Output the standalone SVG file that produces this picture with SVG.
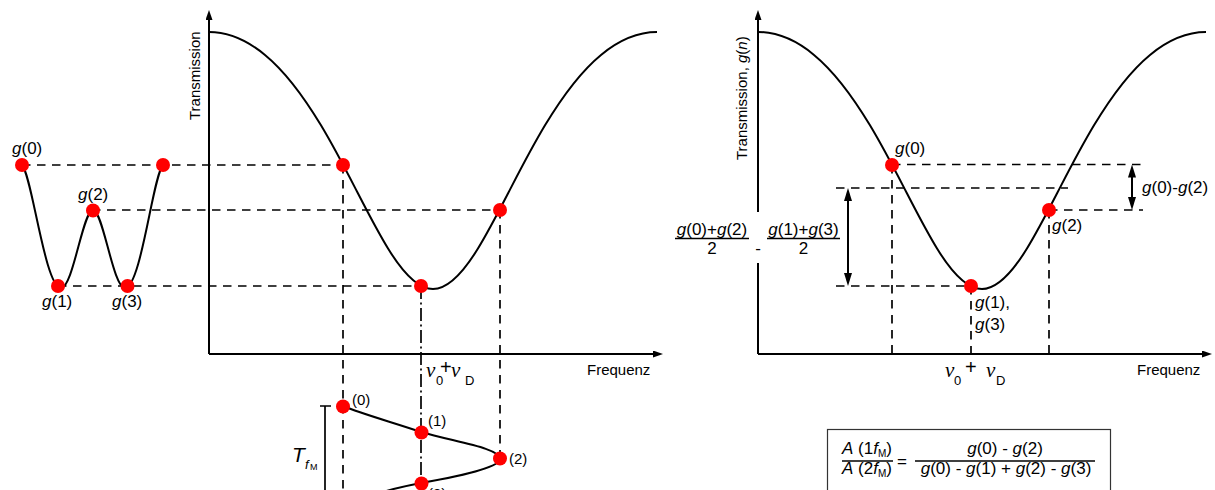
<svg xmlns="http://www.w3.org/2000/svg" width="1215" height="490" viewBox="0 0 1215 490">
<defs>
<style>
text{font-family:"Liberation Sans",Arial,sans-serif;fill:#000}
.lbl{font-size:17px}
.axl{font-size:15px}
.it{font-style:italic}
.ax{stroke:#000;stroke-width:2;fill:none}
.crv{stroke:#000;stroke-width:2;fill:none}
.dsh{stroke:#000;stroke-width:1.7;stroke-dasharray:8.5 6.5;fill:none}
.dd{stroke:#000;stroke-width:1.7;stroke-dasharray:13 3.5 2 3.5;fill:none}
.dar{stroke:#000;stroke-width:2;fill:none}
.bar{stroke:#000;stroke-width:1.3}
.dot{fill:#ff0000}
.nu{font-family:"Liberation Serif","Times New Roman",serif;font-style:italic;font-size:21px}
.pl{font-size:20px}
.sub{font-size:13px}
</style>
<marker id="axh" viewBox="0 0 10 7" refX="5" refY="3.5" markerWidth="10" markerHeight="7" markerUnits="userSpaceOnUse" orient="auto"><path d="M0,0 L10,3.5 L0,7 z" fill="#000"/></marker>
<marker id="dah" viewBox="0 0 13 8" refX="7" refY="4" markerWidth="13" markerHeight="8" markerUnits="userSpaceOnUse" orient="auto-start-reverse"><path d="M0,0 L13,4 L0,8 z" fill="#000"/></marker>
<path id="tcurve" d="M209,32 C227.7,32 246.3,39.5 265,54.9 C283.7,70.3 302.3,94.2 321,125.3 C332.2,144 343.4,165.2 354.6,186.9 C365.8,208.6 377,230.7 388.2,248.8 C403.1,273 418.1,289 433,289 C447.9,289 462.9,273 477.8,248.8 C489,230.7 500.2,208.6 511.4,186.9 C522.6,165.2 533.8,144 545,125.3 C563.7,94.2 582.3,70.3 601,54.9 C619.7,39.5 638.3,32 657,32"/>
</defs>

<!-- connectors -->
<g id="connectors">
  <path class="dsh" d="M22,165 H343"/>
  <path class="dsh" d="M92,210 H500"/>
  <path class="dsh" d="M58,286 H421"/>
  <path class="dsh" d="M343,165 V490"/>
  <path class="dsh" d="M500,210 V459"/>
  <path class="dd" d="M421,286 V490"/>
  <path class="dsh" d="M892,164.5 H1143"/>
  <path class="dsh" d="M1049,210 H1143"/>
  <path class="dsh" d="M836,188 H1068"/>
  <path class="dsh" d="M836,286 H971"/>
  <path class="dsh" d="M892,165 V354"/>
  <path class="dsh" d="M971,286 V354"/>
  <path class="dsh" d="M1049,210 V354"/>
  <path class="dar" d="M848,194 V280" marker-start="url(#dah)" marker-end="url(#dah)"/>
  <path class="dar" d="M1132,170.5 V204" marker-start="url(#dah)" marker-end="url(#dah)"/>
</g>

<!-- left panel axes -->
<g id="left-axes">
  <path class="ax" d="M209,354 V15" marker-end="url(#axh)"/>
  <path class="ax" d="M209,354 H658" marker-end="url(#axh)"/>
  <text class="axl" transform="translate(200,120) rotate(-90)">Transmission</text>
  <text class="axl" x="587" y="375">Frequenz</text>
  <g id="left-nu-label">
    <text class="nu" x="426" y="377">ν</text>
    <text class="sub" x="436" y="385">0</text>
    <text class="pl" x="440" y="374">+</text>
    <text class="nu" x="451" y="377">ν</text>
    <text class="sub" x="465" y="385">D</text>
  </g>
</g>

<g id="left-transmission-curve">
  <use href="#tcurve" class="crv"/>
</g>

<g id="w-curve">
  <path class="crv" d="M22,165 C32,175 45,288 61,288 C73,288 83,210 93,210 C103,210 113,288 125,288 C141,288 153,175 163,165"/>
</g>

<g id="time-curve">
  <path class="crv" d="M343,406 C362,414 395,423 421,432 C455,442 500,448 500,459 C500,468 450,478 421,483 C405,486 392,489 380,493"/>
</g>

<g id="period-bracket">
  <path class="ax" d="M320,406 H331 M325,406 V490" style="stroke-width:1.7"/>
  <text class="it" x="292" y="462" font-size="21">T</text>
  <text class="it" x="305" y="469" font-size="13">f</text>
  <text x="310" y="470" font-size="9">M</text>
</g>

<!-- left dots -->
<g id="node-g0-left"><circle class="dot" cx="22" cy="165" r="7"/><text class="lbl" x="12" y="154"><tspan class="it">g</tspan>(0)</text></g>
<g id="node-g1-left"><circle class="dot" cx="58" cy="286" r="7"/><text class="lbl" x="42" y="307"><tspan class="it">g</tspan>(1)</text></g>
<g id="node-g2-left"><circle class="dot" cx="93" cy="210.5" r="7"/><text class="lbl" x="78" y="200"><tspan class="it">g</tspan>(2)</text></g>
<g id="node-g3-left"><circle class="dot" cx="127.5" cy="286" r="7"/><text class="lbl" x="112" y="307"><tspan class="it">g</tspan>(3)</text></g>
<g id="node-g4-left"><circle class="dot" cx="163" cy="165" r="7"/></g>
<g id="node-t0"><circle class="dot" cx="343" cy="165" r="7"/></g>
<g id="node-t1"><circle class="dot" cx="421" cy="286" r="7"/></g>
<g id="node-t2"><circle class="dot" cx="500" cy="210" r="7"/></g>
<g id="node-s0"><circle class="dot" cx="343" cy="406.5" r="7"/><text class="axl" x="352" y="405">(0)</text></g>
<g id="node-s1"><circle class="dot" cx="421.5" cy="432.5" r="7"/><text class="axl" x="428" y="426">(1)</text></g>
<g id="node-s2"><circle class="dot" cx="500" cy="458.5" r="7"/><text class="axl" x="509" y="464">(2)</text></g>
<g id="node-s3"><circle class="dot" cx="421.5" cy="483.5" r="7"/><text class="axl" x="428" y="499">(3)</text></g>

<!-- right panel -->
<g id="right-axes">
  <path class="ax" d="M758,354 V263"/>
  <path class="ax" d="M758,212 V15" marker-end="url(#axh)"/>
  <path class="ax" d="M758,354 H1207" marker-end="url(#axh)"/>
  <text class="axl" transform="translate(747,160) rotate(-90)">Transmission, <tspan class="it">g</tspan>(<tspan class="it">n</tspan>)</text>
  <text class="axl" x="1137" y="375">Frequenz</text>
  <g id="right-nu-label">
    <text class="nu" x="945" y="377">ν</text>
    <text class="sub" x="954" y="385">0</text>
    <text class="pl" x="965" y="374">+</text>
    <text class="nu" x="986" y="377">ν</text>
    <text class="sub" x="996" y="385">D</text>
  </g>
</g>

<g id="right-transmission-curve">
  <use href="#tcurve" class="crv" transform="translate(549,0)"/>
</g>

<g id="node-g0-right"><circle class="dot" cx="892" cy="165" r="7"/><text class="lbl" x="895" y="154"><tspan class="it">g</tspan>(0)</text></g>
<g id="node-g1-right"><circle class="dot" cx="971" cy="286" r="7"/><text class="lbl" x="975" y="308"><tspan class="it">g</tspan>(1),</text><text class="lbl" x="975" y="330"><tspan class="it">g</tspan>(3)</text></g>
<g id="node-g2-right"><circle class="dot" cx="1049" cy="210" r="7"/><text class="lbl" x="1052" y="231"><tspan class="it">g</tspan>(2)</text></g>

<g id="label-diff"><text class="lbl" x="1142" y="193"><tspan class="it">g</tspan>(0)-<tspan class="it">g</tspan>(2)</text></g>

<g id="label-mean-diff">
  <text class="lbl" x="712" y="235" text-anchor="middle"><tspan class="it">g</tspan>(0)+<tspan class="it">g</tspan>(2)</text>
  <line class="bar" x1="675" y1="238.5" x2="749" y2="238.5"/>
  <text class="lbl" x="712" y="254" text-anchor="middle">2</text>
  <text class="lbl" x="758" y="254" text-anchor="middle" font-size="13">-</text>
  <text class="lbl" x="803.5" y="235" text-anchor="middle"><tspan class="it">g</tspan>(1)+<tspan class="it">g</tspan>(3)</text>
  <line class="bar" x1="767" y1="238.5" x2="840" y2="238.5"/>
  <text class="lbl" x="803.5" y="254" text-anchor="middle">2</text>
</g>

<g id="formula">
  <rect x="827.5" y="429.5" width="283" height="80" fill="#fff" stroke="#333" stroke-width="1.2"/>
  <text class="lbl" x="842" y="454"><tspan class="it">A</tspan> (1<tspan class="it">f</tspan><tspan font-size="10" dy="3">M</tspan><tspan dy="-3">)</tspan></text>
  <line class="bar" x1="842" y1="461" x2="893" y2="461"/>
  <text class="lbl" x="842" y="474"><tspan class="it">A</tspan> (2<tspan class="it">f</tspan><tspan font-size="10" dy="3">M</tspan><tspan dy="-3">)</tspan></text>
  <text class="lbl" x="897" y="467">=</text>
  <text class="lbl" x="1005" y="454" text-anchor="middle"><tspan class="it">g</tspan>(0) - <tspan class="it">g</tspan>(2)</text>
  <line class="bar" x1="915" y1="461" x2="1095" y2="461"/>
  <text class="lbl" x="1006" y="474" text-anchor="middle"><tspan class="it">g</tspan>(0) - <tspan class="it">g</tspan>(1) + <tspan class="it">g</tspan>(2) - <tspan class="it">g</tspan>(3)</text>
</g>
</svg>
